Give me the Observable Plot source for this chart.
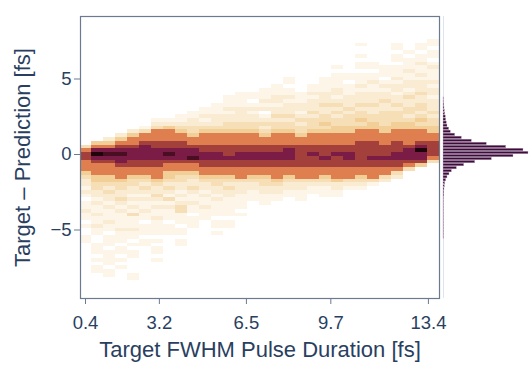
<!DOCTYPE html>
<html><head><meta charset="utf-8">
<script src="https://cdn.jsdelivr.net/npm/d3@7"></script>
<script src="https://cdn.jsdelivr.net/npm/@observablehq/plot@0.6"></script>
<style>
body{margin:0;background:#fff;}
#wrap{position:relative;width:529px;height:365px;overflow:hidden;}
#main{position:absolute;left:0;top:0;}
#side{position:absolute;left:440px;top:0;}
</style></head><body><div id="wrap"><div id="main"></div><div id="side"></div></div>
<script>
// 2D histogram: x bins (Target FWHM pulse duration, fs)
const xBinStart = 0.161;
const xBinWidth = 0.455;
// y bins (Target - Prediction, fs), rows counted downward from yTop
const yTop = 7.625;
const yBinHeight = 0.25;
// first occupied row of each column
const colStart = [28, 27, 26, 25, 24, 23, 21, 21, 20, 19, 18, 17, 15, 14, 14, 13, 12, 10, 14, 12, 10, 7, 9, 1, 6, 7, 1, 3, 1, 0];
// count level of each cell from the first occupied row downward (0 = empty)
const colLevels = [
  "35665554322121011211010011",
  "45797655544332212112112110011101011",
  "2457876555443232212111211011101111011",
  "245678776555433223212111121110110101",
  "2455677766554332212121311121101011000011",
  "13556777766554323212112110111011",
  "12355566777665554322321211211110101101",
  "1245556678765544323213121110111",
  "11234556677765543322121233111011011",
  "1122334556778655432232112110111",
  "112123455566776655432212112111",
  "11122234555667766554332212111101101",
  "11121223345556667665543232211111011",
  "111122223345556677665553222111101",
  "11012122334555667766554322111",
  "1112120123234556677665543322111",
  "1112212232334555667766555432211",
  "11011212223233455567776655432211",
  "11122123233455666666555322111",
  "11212223233345556676665553211",
  "11112223223343455566676655432111",
  "10111122123232334455566766655542211",
  "1101112223233344555667766555321",
  "100101101112122232334345556666666554321",
  "110112112223223344555666676655531",
  "1110121223223333445556667665532",
  "110110111212212232333445556667766532",
  "10111211221232233234455556777653",
  "110112112122232233234345556797764",
  "110110121112122122232334455666653"
];
const levels = [1, 2, 3, 4, 5, 6, 7, 8, 9];
const levelColors = ["#fdf5e8", "#faebd3", "#f6dfb7", "#f1cf96", "#df7f4f", "#a3403b", "#7a1c46", "#4a0e22", "#1f050a"];

// marginal histogram of Target - Prediction
const margY = [3.7, 3.5, 3.3, 3.1, 2.9, 2.7, 2.5, 2.3, 2.1, 1.9, 1.7, 1.5, 1.3, 1.1, 0.9, 0.7, 0.5, 0.3, 0.1, -0.1, -0.3, -0.5, -0.7, -0.9, -1.1, -1.3, -1.5, -1.7, -1.9, -2.1, -2.3, -2.5, -2.7, -2.9, -3.1, -3.3, -3.5, -3.7, -3.9, -4.1, -4.3, -4.5, -4.7, -4.9, -5.1, -5.3, -5.5];
const margCount = [1, 1, 2, 3, 4, 5, 7, 8, 10, 12, 17, 22, 35, 55, 85, 130, 188, 240, 255, 210, 145, 95, 62, 40, 25, 18, 12, 8, 5, 4, 3, 2, 2, 1, 1, 1, 1, 1, 1, 1, 1, 1, 1, 1, 1, 1, 1];
const margBin = 0.2;

const xTicks = [0.4, 3.2, 6.5, 9.7, 13.4];
const xTickLabels = ["0.4", "3.2", "6.5", "9.7", "13.4"];
const yTicks = [-5, 0, 5];
const xTitle = "Target FWHM Pulse Duration [fs]";
const yTitle = "Target – Prediction [fs]";

const cells = [];
colLevels.forEach((s, j) => {
  for (let i = 0; i < s.length; i++) {
    const lv = +s[i];
    if (!lv) continue;
    const r = colStart[j] + i;
    cells.push({
      x1: xBinStart + j * xBinWidth,
      x2: xBinStart + (j + 1) * xBinWidth,
      y1: yTop - r * yBinHeight,
      y2: yTop - (r + 1) * yBinHeight,
      level: lv
    });
  }
});
const marg = margY.map((y, i) => ({y1: y - margBin / 2, y2: y + margBin / 2, count: margCount[i]}));

const yDomain = [-9.536, 9.139];
const textColor = "#2a3f5f";
const lineColor = "#6b7a8f";
const font = "'Liberation Sans', Arial, sans-serif";

const main = Plot.plot({
  width: 529, height: 365,
  marginLeft: 80, marginRight: 90, marginTop: 16, marginBottom: 67,
  x: {domain: [0.21, 13.82]},
  y: {domain: yDomain},
  color: {type: "ordinal", domain: levels, range: levelColors},
  style: {fontFamily: font, color: textColor, background: "white"},
  marks: [
    Plot.rect(cells, {x1: "x1", x2: "x2", y1: "y1", y2: "y2", fill: "level", clip: true, shapeRendering: "crispEdges"}),
    Plot.frame({stroke: lineColor, strokeWidth: 1.2}),
    Plot.axisX(xTicks, {tickFormat: (d, i) => xTickLabels[i], tickSize: 6, tickPadding: 11, fontSize: 18.5, label: null, stroke: lineColor, fill: textColor}),
    Plot.axisY(yTicks, {tickSize: 6, tickPadding: 3, fontSize: 18.5, label: null, stroke: lineColor, fill: textColor}),
    Plot.text([xTitle], {text: d => d, frameAnchor: "bottom", dy: 58, lineAnchor: "bottom", textAnchor: "middle", fontSize: 22, fill: textColor}),
    Plot.text([yTitle], {text: d => d, frameAnchor: "left", dx: -51, rotate: -90, lineAnchor: "bottom", textAnchor: "middle", fontSize: 22, fill: textColor})
  ]
});
document.getElementById("main").appendChild(main);

const side = Plot.plot({
  width: 89, height: 365,
  marginLeft: 3, marginRight: 0, marginTop: 16, marginBottom: 67,
  x: {domain: [0, 258], axis: null},
  y: {domain: yDomain, axis: null},
  style: {background: "transparent"},
  marks: [
    Plot.ruleX([0], {stroke: "#dfe4ec", strokeWidth: 1}),
    Plot.rectX(marg, {y1: "y1", y2: "y2", x: "count", fill: "#3f0c3a", stroke: "#c2b2cc", strokeWidth: 0.4, insetTop: 0.25, insetBottom: 0.25})
  ]
});
document.getElementById("side").appendChild(side);
</script>
</body></html>
